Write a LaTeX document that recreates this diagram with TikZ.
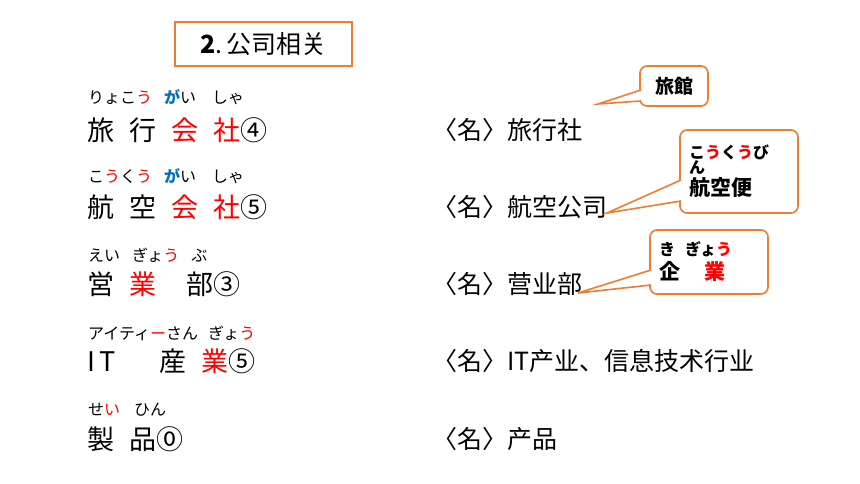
\documentclass[tikz,border=0pt]{standalone}
\usepackage{fontspec}
\setmainfont{Noto Sans CJK JP}
\usetikzlibrary{positioning}
\definecolor{callorange}{RGB}{237,125,49}
\definecolor{gablue}{RGB}{0,112,192}
\tikzset{
  word/.style={inner sep=0pt, anchor=west, font=\fontsize{27}{29}\selectfont},
  ruby/.style={inner sep=0pt, anchor=west, font=\fontsize{16}{18}\selectfont},
  meaning/.style={inner sep=0pt, anchor=west, font=\fontsize{25}{27}\selectfont},
  callbox/.style={draw=callorange, line width=1.6pt, rounded corners=7pt, fill=white, align=left, inner sep=0pt},
  callline/.style={draw=callorange, line width=1.6pt, line join=miter}
}
\newcommand{\rd}[1]{\textcolor{red}{#1}}
\begin{document}
\begin{tikzpicture}[x=1pt,y=-1pt]
  \useasboundingbox (0,0) rectangle (860,484);
  % title
  \node [draw=callorange, line width=1.2pt, minimum width=177pt, minimum height=44pt, inner sep=0pt,
         font=\fontsize{25}{27}\selectfont](title) at (263.5,44){\textbf{2}.\,公司相关};

  % row 1
  \node [ruby](r1) at (88,97){りょこ\rd{う}\hspace{12pt}\textcolor{gablue}{\textbf{が}}い\hspace{16pt}しゃ};
  \node [word](w1) at (87,130){旅\hspace{15pt}行\hspace{15pt}\rd{会}\hspace{15pt}\rd{社}④};
  \node [meaning](m1) at (432,130){〈名〉旅行社};
  % row 2
  \node [ruby](r2) at (88,176){こ\rd{う}く\rd{う}\hspace{12pt}\textcolor{gablue}{\textbf{が}}い\hspace{16pt}しゃ};
  \node [word](w2) at (87,207){航\hspace{15pt}空\hspace{15pt}\rd{会}\hspace{15pt}\rd{社}⑤};
  \node [meaning](m2) at (432,207){〈名〉航空公司};
  % row 3
  \node [ruby](r3) at (88,255){えい\hspace{12pt}ぎょ\rd{う}\hspace{12pt}ぶ};
  \node [word](w3) at (87,284){営\hspace{15pt}\rd{業}\hspace{30pt}部③};
  \node [meaning](m3) at (432,284){〈名〉营业部};
  % row 4
  \node [ruby](r4) at (88,333){アイティ\rd{ー}さん\hspace{10pt}ぎょ\rd{う}};
  \node [word](w4) at (87,361){I\,T\hspace{44pt}産\hspace{15pt}\rd{業}⑤};
  \node [meaning](m4) at (432,361){〈名〉IT产业、信息技术行业};
  % row 5
  \node [ruby](r5) at (88,410){せ\rd{い}\hspace{14pt}ひん};
  \node [word](w5) at (87,439){製\hspace{15pt}品⓪};
  \node [meaning](m5) at (432,439){〈名〉产品};

  % callouts
  \node [callbox, minimum width=68pt, minimum height=40pt, font=\fontsize{19}{21}\selectfont\bfseries](c1) at (674,86){旅館};
  \coordinate (t1) at (598,104);
  \fill [white] (642,89) -- (t1) -- (642,101) -- cycle;
  \draw [callline] (641,90) -- (t1) -- (641,101);

  \node [callbox, minimum width=118pt, minimum height=83pt, text width=100pt,
         font=\fontsize{16}{17}\selectfont\bfseries](c2) at (739,171.5)
     {こ\rd{う}く\rd{う}び\\[-2pt]ん\\[2pt]{\fontsize{21}{23}\selectfont 航空便}};
  \coordinate (t2) at (607,213);
  \fill [white] (682,179) -- (t2) -- (682,201) -- cycle;
  \draw [callline] (681,180) -- (t2) -- (681,201);

  \node [callbox, minimum width=118pt, minimum height=64pt, text width=100pt,
         font=\fontsize{16}{24}\selectfont\bfseries](c3) at (709,262)
     {き\hspace{10pt}ぎょ\rd{う}\\{\fontsize{21}{23}\selectfont 企\hspace{24pt}\rd{業}}};
  \coordinate (t3) at (578,293);
  \fill [white] (652,269) -- (t3) -- (652,285) -- cycle;
  \draw [callline] (651,270) -- (t3) -- (651,285);
\end{tikzpicture}
\end{document}
